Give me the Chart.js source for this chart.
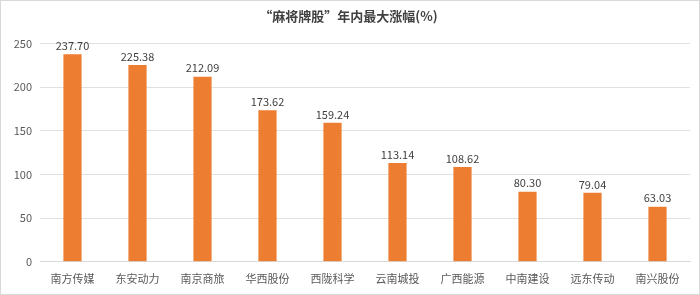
<!DOCTYPE html>
<html><head><meta charset="utf-8">
<script src="https://cdn.jsdelivr.net/npm/chart.js@4/dist/chart.umd.min.js"></script>
<style>
html,body{margin:0;padding:0;background:#fff;}
#wrap{position:absolute;left:0;top:0;width:698px;height:293px;border:1px solid #d9d9d9;}
</style></head>
<body><div id="wrap"><canvas id="c" width="698" height="293"></canvas></div>
<script>
const categories = ["南方传媒","东安动力","南京商旅","华西股份","西陇科学","云南城投","广西能源","中南建设","远东传动","南兴股份"];
const values = [237.70,225.38,212.09,173.62,159.24,113.14,108.62,80.30,79.04,63.03];
const yTicks = [0,50,100,150,200,250];
const titleText = "“麻将牌股”年内最大涨幅(%)";

const FONT = "'Noto Sans CJK SC','Microsoft YaHei',sans-serif";
const labelPlugin = {
  id:'barLabels',
  afterDatasetsDraw(chart){
    const ctx = chart.ctx;
    const meta = chart.getDatasetMeta(0);
    ctx.save();
    ctx.font = "11px " + FONT;
    ctx.fillStyle = "#404040";
    ctx.textAlign = "center";
    ctx.textBaseline = "bottom";
    meta.data.forEach((el,i)=>{
      ctx.fillText(values[i].toFixed(2), el.x, el.y - 3);
    });
    ctx.restore();
  }
};

new Chart(document.getElementById('c'),{
  type:'bar',
  data:{labels:categories,datasets:[{data:values,backgroundColor:'#ED7D31',categoryPercentage:1,barPercentage:0.28}]},
  options:{
    responsive:false,animation:false,
    layout:{padding:{left:6,right:9,top:5,bottom:7}},
    plugins:{
      legend:{display:false},tooltip:{enabled:false},
      title:{display:true,text:titleText,color:'#404040',font:{family:FONT,size:13,weight:'bold'},padding:{top:2,bottom:20}}
    },
    scales:{
      x:{grid:{display:false},border:{color:'#d9d9d9'},ticks:{color:'#595959',font:{family:FONT,size:11},padding:2,maxRotation:0}},
      y:{min:0,max:250,afterBuildTicks(s){s.ticks=yTicks.map(v=>({value:v}));},
         afterFit(s){s.width=33;},
         grid:{color:'#e0e0e0',drawTicks:false},border:{display:false},
         ticks:{color:'#595959',font:{family:FONT,size:11},padding:8}}
    }
  },
  plugins:[labelPlugin]
});
</script></body></html>
